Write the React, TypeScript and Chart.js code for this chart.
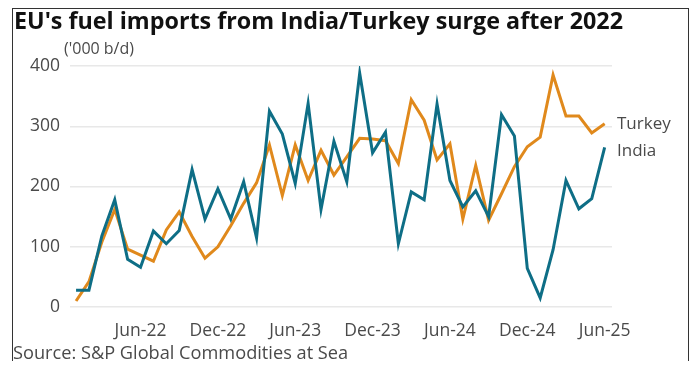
import React, { useEffect, useRef } from "react";
import { Chart, registerables } from "chart.js";

Chart.register(...registerables);

const months: string[] = [
  "Jan-22","Feb-22","Mar-22","Apr-22","May-22","Jun-22","Jul-22","Aug-22","Sep-22","Oct-22","Nov-22","Dec-22",
  "Jan-23","Feb-23","Mar-23","Apr-23","May-23","Jun-23","Jul-23","Aug-23","Sep-23","Oct-23","Nov-23","Dec-23",
  "Jan-24","Feb-24","Mar-24","Apr-24","May-24","Jun-24","Jul-24","Aug-24","Sep-24","Oct-24","Nov-24","Dec-24",
  "Jan-25","Feb-25","Mar-25","Apr-25","May-25","Jun-25",
];

const turkey: number[] = [
  10, 42, 108, 162, 96, 86, 76, 128, 158, 117, 81, 100,
  135, 172, 206, 269, 185, 269, 210, 260, 219, 249, 280, 279,
  276, 238, 344, 310, 244, 271, 146, 235, 144, 188, 233, 266,
  282, 385, 317, 317, 289, 304,
];

const india: number[] = [
  28, 28, 118, 178, 79, 66, 126, 105, 127, 228, 146, 196,
  146, 208, 115, 325, 287, 205, 338, 162, 275, 208, 388, 256,
  290, 105, 191, 178, 337, 210, 166, 193, 150, 319, 284, 64,
  15, 95, 210, 163, 180, 265,
];

const xTickMonths: string[] = ["Jun-22", "Dec-22", "Jun-23", "Dec-23", "Jun-24", "Dec-24", "Jun-25"];
const yTicks: number[] = [0, 100, 200, 300, 400];

const TURKEY_COLOR = "#E0891C";
const INDIA_COLOR = "#0E6E86";
const FONT = "'Open Sans', 'DejaVu Sans', sans-serif";

const endLabels = {
  id: "endLabels",
  afterDatasetsDraw(chart: any) {
    const ctx = chart.ctx;
    const items: { text: string; y: number }[] = [];
    chart.data.datasets.forEach((ds: any, i: number) => {
      const meta = chart.getDatasetMeta(i);
      const pt = meta.data[meta.data.length - 1];
      items.push({ text: ds.label, y: pt.y });
    });
    items.sort((a, b) => a.y - b.y);
    for (let i = 1; i < items.length; i++) {
      if (items[i].y - items[i - 1].y < 27) items[i].y = items[i - 1].y + 27;
    }
    ctx.save();
    ctx.font = `17px ${FONT}`;
    ctx.fillStyle = "#4a4a4a";
    ctx.textBaseline = "middle";
    ctx.textAlign = "left";
    items.forEach((it) => ctx.fillText(it.text, chart.chartArea.right + 5, it.y));
    ctx.restore();
  },
};

export default function App() {
  const ref = useRef<HTMLCanvasElement | null>(null);

  useEffect(() => {
    if (!ref.current) return;
    const chart = new Chart(ref.current, {
      type: "line",
      data: {
        datasets: [
          {
            label: "India",
            data: india.map((v, i) => ({ x: i, y: v })),
            borderColor: INDIA_COLOR,
            borderWidth: 3,
            pointRadius: 0,
            tension: 0,
            fill: false,
          },
          {
            label: "Turkey",
            data: turkey.map((v, i) => ({ x: i, y: v })),
            borderColor: TURKEY_COLOR,
            borderWidth: 3,
            pointRadius: 0,
            tension: 0,
            fill: false,
          },
        ],
      },
      options: {
        animation: false,
        responsive: false,
        maintainAspectRatio: false,
        layout: { padding: { top: 66, right: 84, bottom: 0, left: 0 } },
        plugins: { legend: { display: false }, tooltip: { enabled: false }, title: { display: false } },
        scales: {
          x: {
            type: "linear",
            min: -0.47,
            max: 41.57,
            grid: { display: false },
            border: { display: false },
            afterFit: (s: any) => { s.height = 72; },
            afterBuildTicks: (s: any) => {
              s.ticks = xTickMonths.map((m) => ({ value: months.indexOf(m) }));
            },
            ticks: {
              autoSkip: false,
              maxRotation: 0,
              padding: 6,
              color: "#4a4a4a",
              font: { family: FONT, size: 17.5 },
              callback: (v: any) => months[Math.round(Number(v))] ?? "",
            },
          },
          y: {
            min: 0,
            max: 400,
            grid: { color: "#e8e8e8", lineWidth: 1.5, drawTicks: false },
            border: { display: false },
            afterFit: (s: any) => { s.width = 70; },
            afterBuildTicks: (s: any) => {
              s.ticks = yTicks.map((v) => ({ value: v }));
            },
            ticks: {
              padding: 10,
              color: "#4a4a4a",
              font: { family: FONT, size: 17.5 },
            },
          },
        },
      },
      plugins: [endLabels],
    });
    return () => chart.destroy();
  }, []);

  return (
    <div style={{ position: "absolute", left: 0, top: 0, width: 696, height: 379, background: "#fff", overflow: "hidden" }}>
      <canvas ref={ref} width={696} height={379} style={{ position: "absolute", left: 0, top: 0, width: 696, height: 379 }} />
      <div style={{ position: "absolute", left: 12, top: 8, width: 675, height: 352, borderLeft: "1.5px solid #333", borderTop: "1.5px solid #333", borderRight: "1.5px solid #333" }} />
      <div style={{ position: "absolute", left: 14, top: 5, fontFamily: FONT, fontWeight: 700, fontSize: 23.3, color: "#111", whiteSpace: "nowrap", lineHeight: "30px" }}>
        EU's fuel imports from India/Turkey surge after 2022
      </div>
      <div style={{ position: "absolute", left: 64, top: 38, fontFamily: FONT, fontSize: 16, color: "#4a4a4a", whiteSpace: "nowrap", lineHeight: "20px" }}>
        ('000 b/d)
      </div>
      <div style={{ position: "absolute", left: 13, top: 340, fontFamily: FONT, fontSize: 18.2, color: "#4a4a4a", whiteSpace: "nowrap", lineHeight: "24px" }}>
        Source: S&amp;P Global Commodities at Sea
      </div>
    </div>
  );
}
